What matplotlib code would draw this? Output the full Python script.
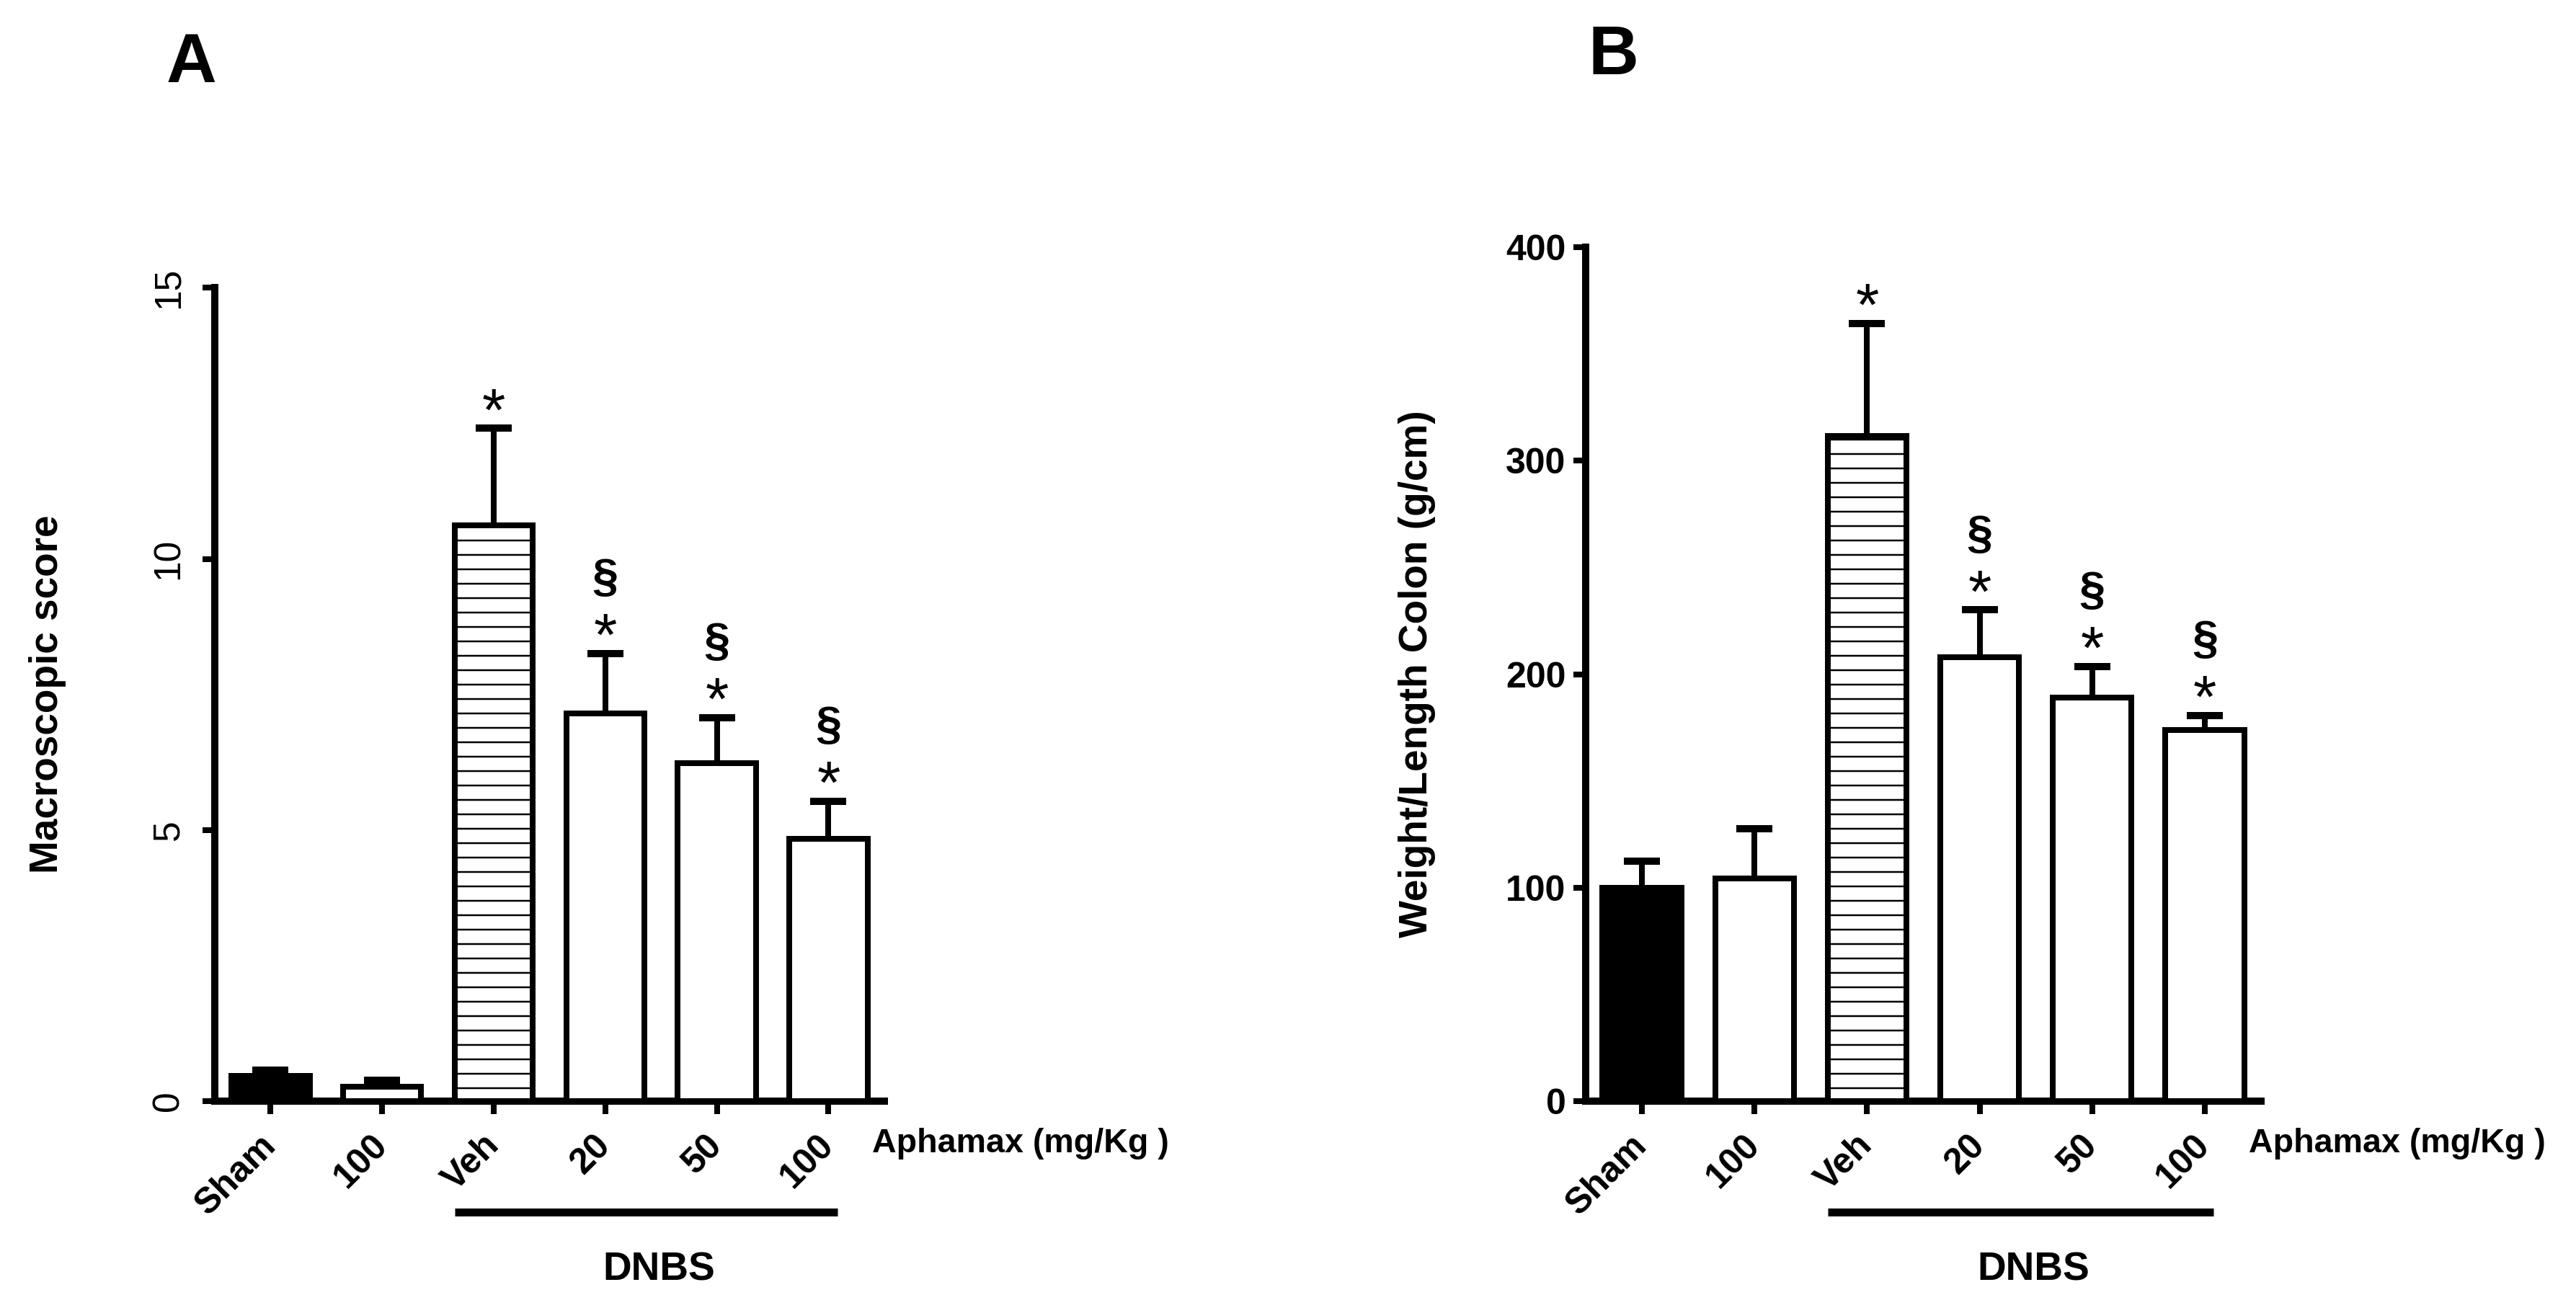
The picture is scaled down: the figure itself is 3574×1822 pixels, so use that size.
import matplotlib
matplotlib.use('Agg')
import matplotlib.pyplot as plt
import matplotlib.transforms as mtransforms

plt.rcParams['font.family'] = ['Liberation Sans', 'DejaVu Sans']
plt.rcParams['hatch.linewidth'] = 1.5
plt.rcParams['hatch.color'] = 'black'

##################################################################################################
#                    DATA
##################################################################################################

groups = ['Sham', '100', 'Veh', '20', '50', '100']
bar_faces = ['black', 'white', 'white', 'white', 'white', 'white']
bar_hatches = ['', '', '-', '', '', '']

# panel A : macroscopic score
score_mean = [0.46, 0.27, 10.62, 7.15, 6.24, 4.84]
score_sem = [0.11, 0.11, 1.79, 1.11, 0.83, 0.69]
score_ticks = [0, 5, 10, 15]

# panel B : weight / length of colon
weight_mean = [100.0, 104.3, 311.4, 208.0, 189.1, 173.8]
weight_sem = [12.5, 23.3, 52.8, 22.1, 14.5, 6.9]
weight_ticks = [0, 100, 200, 300, 400]

# significance : * vs Sham, § vs Veh
star_flags = [False, False, True, True, True, True]
sect_flags = [False, False, False, True, True, True]

DOSE_LABEL = 'Aphamax (mg/Kg )'
DNBS_LABEL = 'DNBS'

LW = 4.8
STAR_SIZE = 50
SECT_SIZE = 39


#################################################


def plotBarPanel(fig, ax, means, sems, ticks, y_label, tick_font, tick_pad):
    """Draw one GraphPad-like bar panel with upper SEM bars and markers"""

    x = list(range(len(groups)))
    tops = [m + s for m, s in zip(means, sems)]

    # upper error bars only
    ax.vlines(x, means, tops, color='black', linewidth=LW, zorder=2)
    ax.plot(x, tops, ls='none', marker='_', markersize=30, markeredgewidth=6,
            color='black', zorder=2)

    ax.bar(x, means, width=0.7, color=bar_faces, edgecolor='black',
           linewidth=LW, hatch=bar_hatches, zorder=3)

    # significance markers
    for i in x:
        if star_flags[i]:
            ax.annotate('*', xy=(i, tops[i]), xytext=(0, 27 - 0.575 * STAR_SIZE),
                        textcoords='offset points', ha='center', va='baseline',
                        fontsize=STAR_SIZE)
        if sect_flags[i]:
            ax.annotate('§', xy=(i, tops[i]), xytext=(0, 62 - 0.27 * SECT_SIZE),
                        textcoords='offset points', ha='center', va='baseline',
                        fontsize=SECT_SIZE, fontweight='bold')

    ax.set_xlim(-0.5, len(groups) - 0.5)
    ax.set_ylim(ticks[0], ticks[-1])
    ax.set_yticks(ticks)
    ax.set_xticks(x)
    ax.set_xticklabels(groups, rotation=45, ha='right', va='center',
                       rotation_mode='anchor', fontsize=30, fontweight='bold')

    for side in ['top', 'right']:
        ax.spines[side].set_visible(False)
    for side in ['left', 'bottom']:
        ax.spines[side].set_linewidth(6)

    ax.tick_params(axis='both', direction='out', length=10.5, width=LW, color='black')
    ax.tick_params(axis='x', pad=22)
    ax.tick_params(axis='y', pad=tick_pad)
    for lab in ax.get_yticklabels():
        lab.set_fontproperties(tick_font)

    ax.text(-0.25, 0.5, y_label, transform=ax.transAxes, rotation=90,
            ha='center', va='center', fontsize=33, fontweight='bold')

    # dose label, DNBS bar and text (x in data, y in figure)
    trans = mtransforms.blended_transform_factory(ax.transData, fig.transFigure)
    ax.text(5.39, 0.1290, DOSE_LABEL, transform=trans, ha='left', va='center',
            fontsize=28, fontweight='bold')
    ax.plot([1.65, 5.08], [0.0768, 0.0768], transform=trans, color='black',
            linewidth=6.6, solid_capstyle='butt', clip_on=False)
    ax.text(3.48, 0.0324, DNBS_LABEL, transform=trans, ha='center', va='center',
            fontsize=33, fontweight='bold')


##################################################################################################
#                    FIGURE
##################################################################################################

fig = plt.figure(figsize=(3574 / 120, 1822 / 120), dpi=120)
ax_a = fig.add_axes([0.08338, 0.16136, 0.2599, 0.61938])
ax_b = fig.add_axes([0.61556, 0.16136, 0.26217, 0.65038])

plotBarPanel(fig, ax_a, score_mean, score_sem, score_ticks, 'Macroscopic score',
             {'size': 31, 'weight': 'normal'}, 13)
for lab in ax_a.get_yticklabels():
    lab.set_rotation(90)
    lab.set_va('center')

plotBarPanel(fig, ax_b, weight_mean, weight_sem, weight_ticks,
             'Weight/Length Colon (g/cm)', {'size': 30, 'weight': 'bold'}, 6)

fig.text(0.0744, 0.9512, 'A', ha='center', va='center', fontsize=58, fontweight='bold')
fig.text(0.6262, 0.9572, 'B', ha='center', va='center', fontsize=58, fontweight='bold')

fig.savefig('out.png', dpi=120)
